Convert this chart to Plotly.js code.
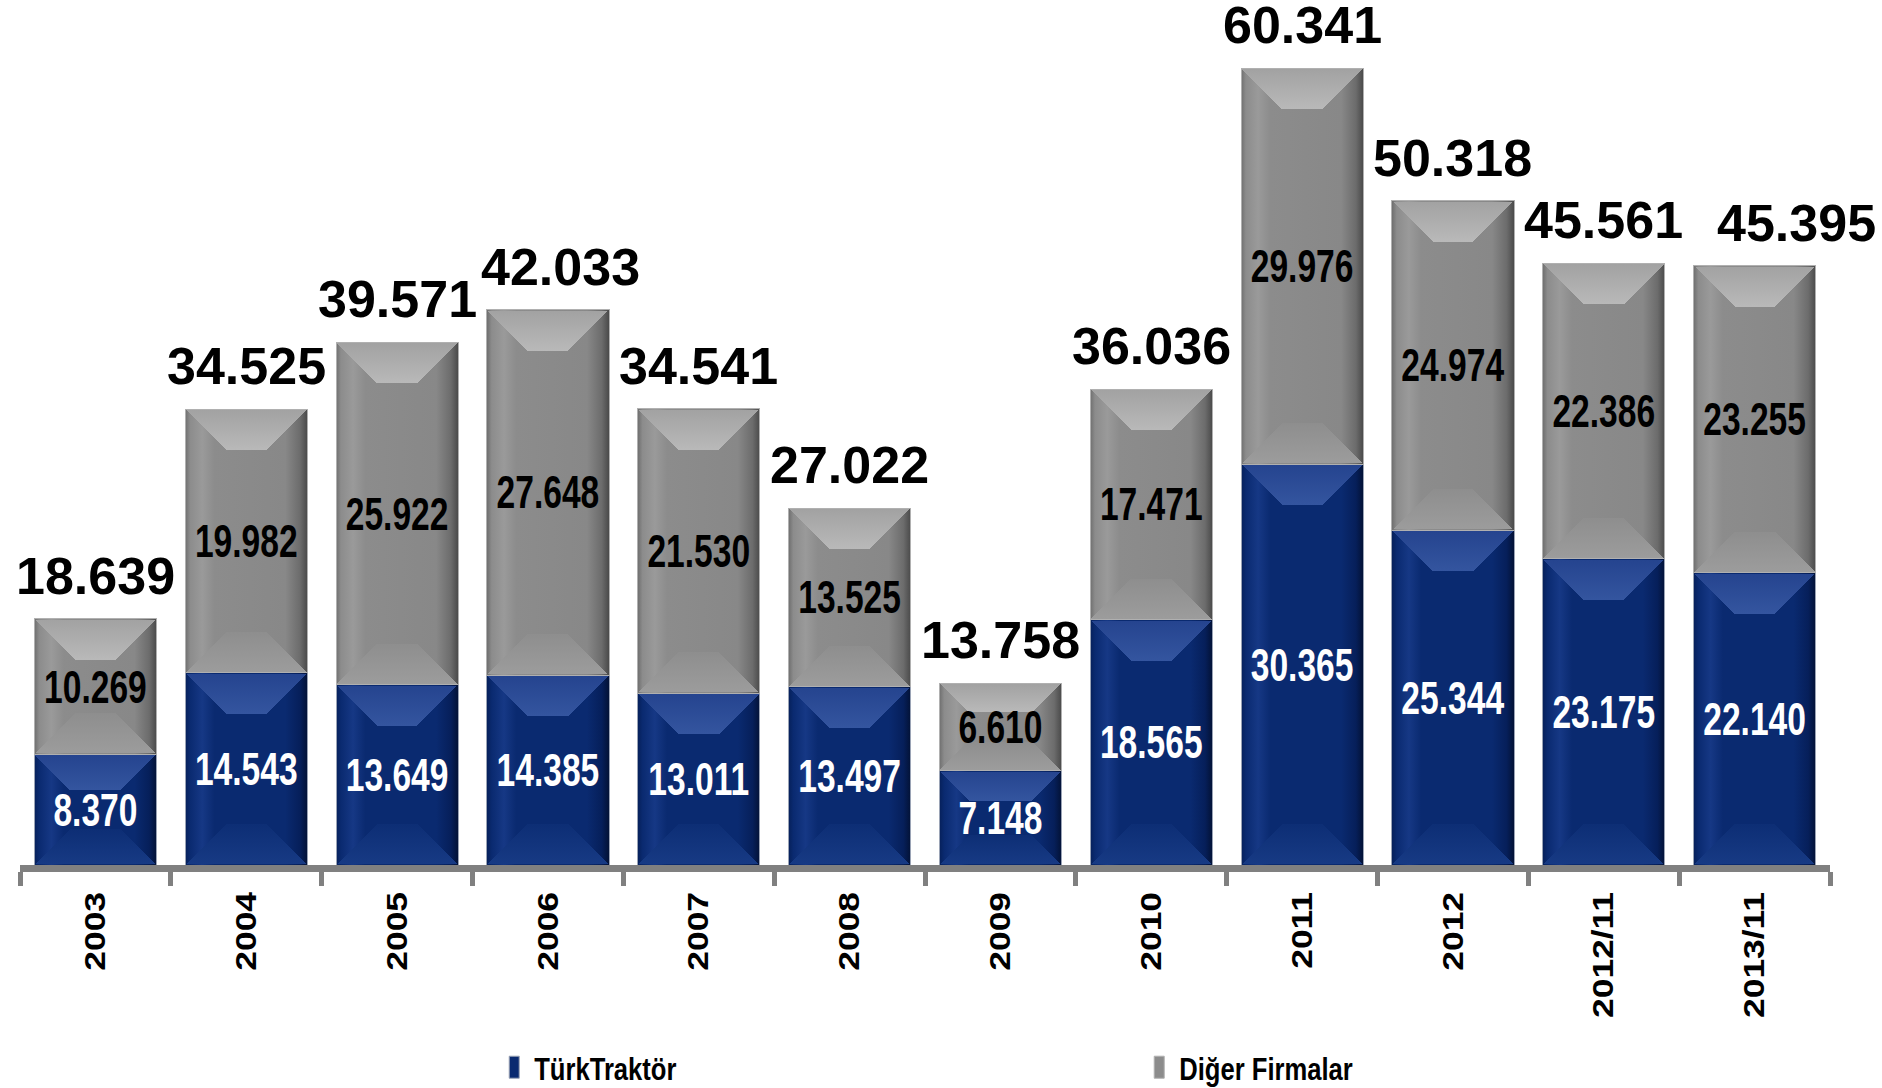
<!DOCTYPE html>
<html>
<head>
<meta charset="utf-8">
<script src="https://cdn.plot.ly/plotly-3.0.1.min.js"></script>
<style>html,body{margin:0;padding:0;background:#fff;}#chart{width:1882px;height:1088px;}</style>
</head>
<body>
<div id="chart"></div>
<script>
const categories = ['2003','2004','2005','2006','2007','2008','2009','2010','2011','2012','2012/11','2013/11'];
const turkTraktor = [8370,14543,13649,14385,13011,13497,7148,18565,30365,25344,23175,22140];
const digerFirmalar = [10269,19982,25922,27648,21530,13525,6610,17471,29976,24974,22386,23255];
const seriesNames = ['TürkTraktör','Diğer Firmalar'];

const totals = categories.map((c,i)=>turkTraktor[i]+digerFirmalar[i]);
const totalLabelShift = {'2006': 13, '2013/11': 42};

const sans = '"Liberation Sans", Arial, sans-serif';

const traces = [
  {
    type:'bar', name:seriesNames[0], x:categories, y:turkTraktor,
    marker:{color:'#0a2a70', line:{color:'#9aa3b5', width:1}},
    texttemplate:'%{y:,.0f}', textposition:'inside', insidetextanchor:'middle',
    constraintext:'none', textangle:0,
    insidetextfont:{family:sans, size:46, color:'#ffffff', weight:'bold'},
    hoverinfo:'skip'
  },
  {
    type:'bar', name:seriesNames[1], x:categories, y:digerFirmalar,
    marker:{color:'#8c8c8c', line:{color:'#b0b0b0', width:1}},
    texttemplate:'%{y:,.0f}', textposition:'inside', insidetextanchor:'middle',
    constraintext:'none', textangle:0,
    insidetextfont:{family:sans, size:46, color:'#000000', weight:'bold'},
    hoverinfo:'skip'
  }
];

const annotations = categories.map((c,i)=>({
  x:i, y:totals[i], xref:'x', yref:'y',
  text: totals[i].toLocaleString('de-DE'),
  showarrow:false, yanchor:'bottom', xanchor:'center',
  yshift:12, xshift: totalLabelShift[c] || 0,
  font:{family:sans, size:52, color:'#000000', weight:'bold'}
}));

const layout = {
  width:1882, height:1088,
  margin:{l:20, r:52, t:0, b:223, autoexpand:false},
  paper_bgcolor:'#ffffff', plot_bgcolor:'#ffffff',
  separators:',.',
  barmode:'stack', bargap:0.19,
  showlegend:true,
  legend:{orientation:'h', x:0.262, y:-0.234, xanchor:'left', yanchor:'middle',
          entrywidth:600, entrywidthmode:'pixels',
          font:{family:sans, size:32, color:'#000000', weight:'bold'},
          traceorder:'normal'},
  xaxis:{type:'category', range:[-0.5, categories.length-0.5], showline:true, linecolor:'#808080', linewidth:7,
         ticks:'outside', tickson:'boundaries', ticklen:14, tickwidth:5, tickcolor:'#808080',
         ticklabelstandoff:8,
         tickangle:-90, tickfont:{family:sans, size:30, color:'#000000', weight:'bold'},
         showgrid:false, zeroline:false, fixedrange:true},
  yaxis:{range:[0,65500], visible:false, showgrid:false, zeroline:false, fixedrange:true},
  annotations:annotations
};

function squeeze(el, sx, sy, useY) {
  const x = parseFloat(el.getAttribute('x')) || 0;
  const y = useY ? (parseFloat(el.getAttribute('y')) || 0) : 0;
  const t = el.getAttribute('transform') || '';
  el.setAttribute('transform', t + ` translate(${x},${y}) scale(${sx},${sy}) translate(${-x},${-y})`);
}

const NS = 'http://www.w3.org/2000/svg';
function makeGrad(defs, id, vertical, stops) {
  const g = document.createElementNS(NS, 'linearGradient');
  g.setAttribute('id', id);
  g.setAttribute('x1', '0'); g.setAttribute('y1', '0');
  g.setAttribute('x2', vertical ? '0' : '1'); g.setAttribute('y2', vertical ? '1' : '0');
  stops.forEach(([o, c]) => {
    const s = document.createElementNS(NS, 'stop');
    s.setAttribute('offset', o); s.setAttribute('stop-color', c);
    g.appendChild(s);
  });
  defs.appendChild(g);
}

// bevel style per trace (visual only)
const bevel = [
  {face:[['0','#06205a'],['0.04','#0a2a70'],['0.14','#163885'],['0.24','#0a2a70'],['0.82','#0a2a70'],['0.94','#061f5a'],['1','#031236']],
   top:[['0','#25448f'],['1','#34559f']], bottom:[['0','#0d2e75'],['1','#173a84']]},
  {face:[['0','#6e6e6e'],['0.04','#8c8c8c'],['0.14','#9a9a9a'],['0.24','#8c8c8c'],['0.82','#888888'],['0.94','#6c6c6c'],['1','#4a4a4a']],
   top:[['0','#a2a2a2'],['1','#b9b9b9']], bottom:[['0','#8e8e8e'],['1','#9c9c9c']]}
];

Plotly.newPlot('chart', traces, layout, {displayModeBar:false, staticPlot:true}).then(gd => {
  const svg = gd.querySelector('svg.main-svg');
  let defs = svg.querySelector('defs');
  if (!defs) { defs = document.createElementNS(NS, 'defs'); svg.insertBefore(defs, svg.firstChild); }
  bevel.forEach((b, k) => {
    makeGrad(defs, 'face' + k, false, b.face);
    makeGrad(defs, 'top' + k, true, b.top);
    makeGrad(defs, 'bot' + k, true, b.bottom);
  });
  gd.querySelectorAll('g.trace.bars').forEach((tr, k) => {
    tr.querySelectorAll('g.point > path').forEach(p => {
      const bb = p.getBBox();
      if (bb.width <= 0 || bb.height <= 0) return;
      p.style.fill = `url(#face${k})`;
      const b = Math.min(40, bb.height / 3.2);
      const x0 = bb.x + 1, x1 = bb.x + bb.width - 1, y0 = bb.y + 1, y1 = bb.y + bb.height - 1;
      const top = document.createElementNS(NS, 'polygon');
      top.setAttribute('points', `${x0},${y0} ${x1},${y0} ${x1 - b},${y0 + b} ${x0 + b},${y0 + b}`);
      top.setAttribute('fill', `url(#top${k})`);
      const bot = document.createElementNS(NS, 'polygon');
      bot.setAttribute('points', `${x0},${y1} ${x1},${y1} ${x1 - b},${y1 - b} ${x0 + b},${y1 - b}`);
      bot.setAttribute('fill', `url(#bot${k})`);
      p.insertAdjacentElement('afterend', bot);
      p.insertAdjacentElement('afterend', top);
    });
  });
  gd.querySelectorAll('text.bartext').forEach(el => squeeze(el, 0.73, 1, false));
  gd.querySelectorAll('.legend text.legendtext').forEach(el => squeeze(el, 0.8, 1, false));
  gd.querySelectorAll('.xtick text').forEach(el => squeeze(el, 1.18, 1, true));
  gd.querySelectorAll('.legend .legendpoints path').forEach(p => p.setAttribute('d', 'M5,11H-5V-11H5Z'));
});
</script>
</body>
</html>
